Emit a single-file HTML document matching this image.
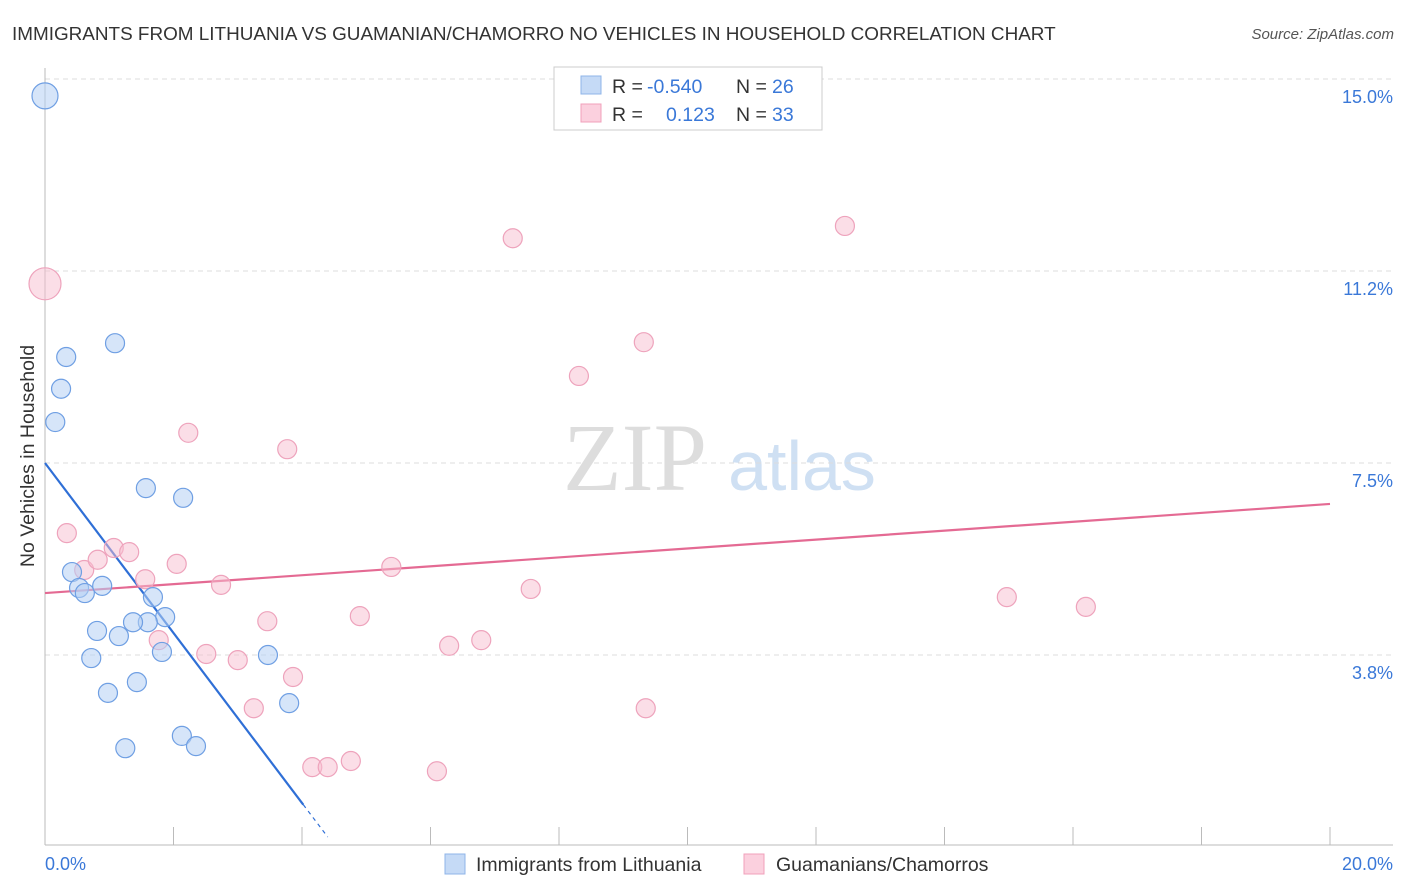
<!DOCTYPE html>
<html><head><meta charset="utf-8"><style>
body{margin:0;background:#fff;font-family:"Liberation Sans",sans-serif}
svg{display:block}
</style></head><body>
<svg id="c" width="1406" height="892" xmlns="http://www.w3.org/2000/svg">
<text x="12" y="40" font-size="18.9" fill="#333">IMMIGRANTS FROM LITHUANIA VS GUAMANIAN/CHAMORRO NO VEHICLES IN HOUSEHOLD CORRELATION CHART</text>
<text x="1394" y="39" font-size="15" fill="#555" font-style="italic" text-anchor="end">Source: ZipAtlas.com</text>
<g><text x="635" y="490" font-size="96" font-family="Liberation Serif,serif" fill="#ddd" text-anchor="middle">ZIP</text><text x="802" y="490" font-size="70" fill="#cfe0f3" text-anchor="middle">atlas</text></g>
<text transform="translate(34,456) rotate(-90)" font-size="19.5" fill="#333" text-anchor="middle">No Vehicles in Household</text>
<g id="grid"></g><g id="axes"></g><g id="trend"></g><g id="pts"></g>
<g>
<rect x="554" y="67" width="268" height="63" fill="#fff" stroke="#ccc"/>
<rect x="581" y="76" width="20" height="18" fill="#c5daf6" stroke="#8fb4e8"/>
<rect x="581" y="104" width="20" height="18" fill="#fbd0de" stroke="#f0a0bb"/>
<text y="93" font-size="19.5" fill="#333"><tspan x="612">R = </tspan><tspan x="647" fill="#3a78d8">-0.540</tspan><tspan x="736">N = </tspan><tspan x="772" fill="#3a78d8">26</tspan></text>
<text y="121" font-size="19.5" fill="#333"><tspan x="612">R = </tspan><tspan x="666" fill="#3a78d8">0.123</tspan><tspan x="736">N = </tspan><tspan x="772" fill="#3a78d8">33</tspan></text>
</g>
<g>
<rect x="445" y="854" width="20" height="20" fill="#c5daf6" stroke="#8fb4e8"/>
<text x="476" y="871" font-size="19.5" fill="#333">Immigrants from Lithuania</text>
<rect x="744" y="854" width="20" height="20" fill="#fbd0de" stroke="#f0a0bb"/>
<text x="776" y="871" font-size="19.5" fill="#333">Guamanians/Chamorros</text>
</g>
</svg>
<script>
const yTicks=[15.0,11.25,7.5,3.75];
const yTickLabels=["15.0%","11.2%","7.5%","3.8%"];
const xTicks=[0,2,4,6,8,10,12,14,16,18,20];
const xMinLabel="0.0%", xMaxLabel="20.0%";
const blueX=[0,0.33,0.25,0.16,1.09,1.57,2.15,0.42,0.53,0.62,0.89,1.68,1.87,1.60,1.37,0.81,1.15,0.72,1.82,3.47,1.43,0.98,3.80,2.13,2.35,1.25];
const blueY=[14.67,9.57,8.95,8.30,9.84,7.01,6.82,5.37,5.06,4.96,5.10,4.88,4.49,4.39,4.39,4.22,4.12,3.69,3.81,3.75,3.22,3.01,2.81,2.17,1.97,1.93];
const pinkX=[0,0.34,0.61,0.82,1.07,1.31,1.56,2.05,2.74,2.23,3.77,1.77,2.51,3.00,3.46,3.25,3.86,4.16,4.40,4.76,4.90,5.39,6.10,6.29,6.79,7.56,7.28,8.31,9.32,9.35,12.45,14.97,16.20];
const pinkY=[11.0,6.13,5.41,5.61,5.84,5.76,5.23,5.53,5.12,8.09,7.77,4.04,3.77,3.65,4.41,2.71,3.32,1.56,1.56,1.68,4.51,5.47,1.48,3.93,4.04,5.04,11.89,9.20,9.86,2.71,12.13,4.88,4.69];
const blueTrend=[7.5,-1.66];
const pinkTrend=[4.96,0.087];
const X=v=>45+v*64.25, Y=v=>79+(15-v)*51.2;
const NS="http://www.w3.org/2000/svg";
function mk(p,t,a){const e=document.createElementNS(NS,t);for(const k in a)e.setAttribute(k,a[k]);p.appendChild(e);return e;}
const grid=document.getElementById('grid'),axes=document.getElementById('axes');
yTicks.forEach((v,i)=>{
 const l=mk(grid,'line',{x1:45,x2:1393,y1:Y(v),y2:Y(v),stroke:'#ddd','stroke-dasharray':'5,4'});
 
 
 const t=mk(grid,'text',{x:1393,y:Y(v)+24,'font-size':18,fill:'#3a78d8','text-anchor':'end'});t.textContent=yTickLabels[i];
 
 
});
const ya=mk(axes,'line',{x1:45,x2:45,y1:68,y2:845,stroke:'#bbb'});


const xa=mk(axes,'line',{x1:45,x2:1393,y1:845,y2:845,stroke:'#bbb'});


xTicks.forEach(v=>{const t=mk(axes,'line',{x1:X(v),x2:X(v),y1:827,y2:845,stroke:'#bbb'});
 
 });
let t1=mk(axes,'text',{x:45,y:870,'font-size':18,fill:'#3a78d8'});t1.textContent=xMinLabel;


let t2=mk(axes,'text',{x:1393,y:870,'font-size':18,fill:'#3a78d8','text-anchor':'end'});t2.textContent=xMaxLabel;


const pts=document.getElementById('pts');
function dots(xs,ys,fill,stroke,name){xs.forEach((x,i)=>{const r=(x===0)?(name==='pink-point'?16:13):9.5;
 const c=mk(pts,'circle',{cx:X(x),cy:Y(ys[i]),r:r,fill:fill,stroke:stroke,'stroke-width':1.2});
 
 });}
dots(pinkX,pinkY,'rgba(248,190,208,0.5)','#eea3bc','pink-point');
dots(blueX,blueY,'rgba(180,208,244,0.55)','#6f9fe3','blue-point');
const tr=document.getElementById('trend');
const bl=mk(tr,'line',{x1:X(0),y1:Y(blueTrend[0]),x2:X(4.02),y2:Y(blueTrend[0]+blueTrend[1]*4.02),stroke:'#2f6fd6','stroke-width':2.2});


const bd=mk(tr,'line',{x1:X(4.02),y1:Y(blueTrend[0]+blueTrend[1]*4.02),x2:X(4.4),y2:Y(blueTrend[0]+blueTrend[1]*4.4),stroke:'#2f6fd6','stroke-width':1.2,'stroke-dasharray':'4,4'});


const pl=mk(tr,'line',{x1:X(0),y1:Y(pinkTrend[0]),x2:X(20),y2:Y(pinkTrend[0]+pinkTrend[1]*20),stroke:'#e46a93','stroke-width':2.2});


</script>
</body></html>
